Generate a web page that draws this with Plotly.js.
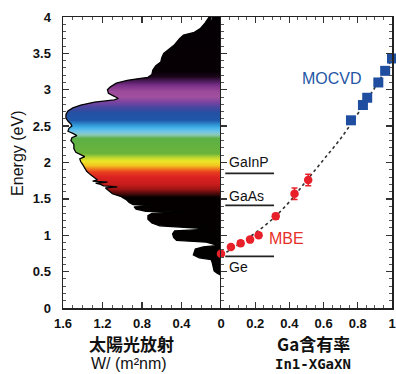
<!DOCTYPE html>
<html><head><meta charset="utf-8">
<script src="https://cdn.plot.ly/plotly-3.0.1.min.js"></script>
<style>html,body{margin:0;padding:0;background:#fff}#c{width:396px;height:374px}</style>
</head><body><div id="c"></div>
<script>
// Solar spectrum (energy in eV, irradiance in W/(m2 nm))
const specEnergy = [4.00,3.92,3.84,3.79,3.75,3.70,3.62,3.56,3.50,3.44,3.38,3.33,3.27,3.21,3.17,3.15,3.13,3.09,3.04,3.00,2.95,2.91,2.88,2.86,2.83,2.79,2.75,2.71,2.66,2.61,2.57,2.53,2.50,2.47,2.43,2.40,2.37,2.34,2.30,2.25,2.19,2.14,2.10,2.08,2.05,2.01,1.97,1.93,1.88,1.83,1.79,1.76,1.745,1.73,1.715,1.70,1.68,1.665,1.65,1.61,1.57,1.53,1.49,1.45,1.42,1.405,1.39,1.36,1.33,1.315,1.30,1.27,1.22,1.17,1.13,1.10,1.08,1.06,1.02,0.97,0.93,0.905,0.88,0.86,0.84,0.81,0.77,0.73,0.69,0.665,0.63,0.57,0.51,0.48,0.45,0.0];
const specIrr = [0.12,0.16,0.21,0.27,0.38,0.42,0.47,0.52,0.58,0.60,0.61,0.66,0.69,0.70,0.74,0.85,0.95,1.06,1.12,1.15,1.14,1.08,1.04,1.08,1.28,1.42,1.50,1.55,1.57,1.57,1.55,1.52,1.51,1.54,1.55,1.50,1.46,1.51,1.52,1.49,1.49,1.47,1.41,1.38,1.43,1.42,1.40,1.38,1.36,1.32,1.28,1.25,1.30,1.15,1.27,1.22,1.19,1.05,1.17,1.13,1.10,1.01,0.96,0.93,0.89,0.70,0.88,0.86,0.76,0.38,0.70,0.74,0.74,0.70,0.62,0.25,0.18,0.47,0.49,0.48,0.45,0.15,0.08,0.03,0.18,0.26,0.27,0.28,0.22,0.10,0.09,0.08,0.07,0.04,0.0,0.0];

// In(1-x)Ga(x)N band gap
const mbeX = [0,0.058,0.115,0.17,0.22,0.32,0.43,0.51];
const mbeE = [0.745,0.84,0.89,0.94,1.0,1.26,1.57,1.76];
const mbeErr = [0.03,0.03,0.03,0.03,0.03,0.04,0.08,0.08];
const mocvdX = [0.76,0.83,0.855,0.92,0.96,1.0];
const mocvdE = [2.58,2.79,2.89,3.10,3.26,3.43];
const fitX = [0,0.1,0.2,0.3,0.4,0.5,0.6,0.7,0.8,0.9,1.0];
const fitE = [0.72,0.87,1.03,1.22,1.46,1.75,2.04,2.33,2.67,3.03,3.42];

// Reference materials
const materials = ['GaInP','GaAs','Ge'];
const materialGap = [1.85,1.41,0.71];

const leftTickVals = [1.6,1.2,0.8,0.4,0];
const leftTickText = ['1.6','1.2','0.8','0.4','0'];
const rightTickVals = [0.2,0.4,0.6,0.8,1];
const rightTickText = ['0.2','0.4','0.6','0.8','1'];

const stops = [
 [0,'#000000'],[1.52,'#050000'],[1.57,'#4a0a0a'],[1.63,'#9a1414'],[1.70,'#c81c1c'],[1.80,'#dc2222'],
 [1.87,'#e8401e'],[1.91,'#f07a1e'],[1.96,'#f2c820'],[2.02,'#ece628'],[2.07,'#b8d432'],[2.12,'#6cb43a'],
 [2.33,'#5cb046'],[2.38,'#8ccab8'],[2.43,'#6cc4ec'],[2.48,'#40b0e8'],[2.53,'#2c88cc'],[2.58,'#2058aa'],
 [2.68,'#2450a2'],[2.76,'#4a46a0'],[2.83,'#7a44a0'],[2.90,'#a0509e'],[2.98,'#9c4a9a'],[3.06,'#7a3088'],
 [3.12,'#4a1a58'],[3.18,'#1a0618'],[3.25,'#060004'],[4,'#040004']
];
const cscale = stops.map(s => [s[0]/4, s[1]]);

const tickFont = {family:'Liberation Sans, Arial, sans-serif', size:13, weight:'bold', color:'#111'};
const lineX = [0.025, 0.31];

const traces = [];
traces.push({
  x: specIrr, y: specEnergy, xaxis:'x', yaxis:'y', type:'scatter', mode:'lines',
  fill:'tozerox', fillgradient:{type:'vertical', colorscale:cscale, start:0, stop:4},
  line:{color:'#000', width:1.3}, hoverinfo:'skip', showlegend:false
});
materials.forEach((m,i) => {
  traces.push({x: lineX, y:[materialGap[i], materialGap[i]], xaxis:'x2', yaxis:'y', mode:'lines',
    line:{color:'#222', width:1.6}, showlegend:false, hoverinfo:'skip'});
});
traces.push({x: fitX, y: fitE, xaxis:'x2', yaxis:'y', mode:'lines', line:{color:'#333', width:1.6, dash:'dot', shape:'spline'}, showlegend:false});
traces.push({x: mbeX, y: mbeE, xaxis:'x2', yaxis:'y', mode:'markers', cliponaxis:false,
  marker:{color:'#e8202a', size:8.5, symbol:'circle'},
  error_y:{type:'data', array:mbeErr, visible:true, color:'#e8202a', thickness:1.5, width:3}, showlegend:false});
traces.push({x: mocvdX, y: mocvdE, xaxis:'x2', yaxis:'y', mode:'markers', cliponaxis:false,
  marker:{color:'#1f4ea0', size:10, symbol:'square'}, showlegend:false});
traces.push({x:[0.5], y:[2], xaxis:'x2', yaxis:'y2', mode:'markers', marker:{opacity:0}, hoverinfo:'skip', showlegend:false});
traces.push({x:[0.5], y:[2], xaxis:'x2', yaxis:'y3', mode:'markers', marker:{opacity:0}, hoverinfo:'skip', showlegend:false});

const split = 158/329;
const commonX = {ticks:'inside', ticklen:6, tickwidth:1.3, tickcolor:'#333', showline:true, linecolor:'#222', linewidth:1.5,
  mirror:'ticks', showgrid:false, zeroline:false, tickfont:tickFont, ticklabelstandoff:3, ticklabeloverflow:'allow', fixedrange:true};
const commonY = {range:[0,4], dtick:0.5, ticks:'inside', ticklen:6, tickwidth:1.3, tickcolor:'#333', showline:true,
  linecolor:'#222', linewidth:1.5, showgrid:false, zeroline:false,
  minor:{dtick:0.1, ticks:'inside', ticklen:3, tickcolor:'#555', tickwidth:1}};

const layout = {
  width:396, height:374, margin:{l:63, r:4, t:17, b:66}, paper_bgcolor:'#fff', plot_bgcolor:'#fff',
  showlegend:false,
  xaxis: Object.assign({}, commonX, {domain:[0, split], range:[1.6, 0], anchor:'y', tickmode:'array', tickvals:leftTickVals, ticktext:leftTickText,
    minor:{dtick:0.1, ticks:'inside', ticklen:3, tickcolor:'#555', tickwidth:1}}),
  xaxis2: Object.assign({}, commonX, {domain:[split, 1], range:[0, 1], anchor:'y', tickmode:'array', tickvals:rightTickVals, ticktext:rightTickText,
    minor:{dtick:0.05, ticks:'inside', ticklen:3, tickcolor:'#555', tickwidth:1}}),
  yaxis: Object.assign({}, commonY, {anchor:'x', side:'left', tickfont:tickFont, ticklabelstandoff:8, tickformat:''}),
  yaxis2: Object.assign({}, commonY, {anchor:'x2', side:'left', overlaying:'y', showticklabels:false}),
  yaxis3: Object.assign({}, commonY, {anchor:'x2', side:'right', overlaying:'y', showticklabels:false}),
  annotations: [
    {text:'Energy (eV)', xref:'paper', yref:'paper', x:-0.1368, y:0.533, xanchor:'center', yanchor:'middle', textangle:-90, showarrow:false,
     font:{family:'Liberation Sans, Arial, sans-serif', size:16, color:'#111'}},
    {text:'太陽光放射', xref:'paper', yref:'paper', x:0.2067, y:-0.1203, xanchor:'center', yanchor:'middle', showarrow:false,
     font:{family:'Noto Sans CJK JP', size:17, weight:'bold', color:'#111'}},
    {text:'W/ (m²nm)', xref:'paper', yref:'paper', x:0.2006, y:-0.1924, xanchor:'center', yanchor:'middle', showarrow:false,
     font:{family:'Liberation Sans, Arial, sans-serif', size:16, color:'#111'}},
    {text:'Ga含有率', xref:'paper', yref:'paper', x:0.760, y:-0.1203, xanchor:'center', yanchor:'middle', showarrow:false,
     font:{family:'Noto Sans CJK JP', size:17, weight:'bold', color:'#111'}},
    {text:'In1-XGaXN', xref:'paper', yref:'paper', x:0.760, y:-0.1924, xanchor:'center', yanchor:'middle', showarrow:false,
     font:{family:'DejaVu Sans Mono', size:14, weight:'bold', color:'#111'}},
    {text:'MOCVD', xref:'x2', yref:'y', x:0.65, y:3.16, xanchor:'center', yanchor:'middle', showarrow:false,
     font:{family:'Liberation Sans, Arial, sans-serif', size:16, color:'#2456a4'}},
    {text:'MBE', xref:'x2', yref:'y', x:0.385, y:0.95, xanchor:'center', yanchor:'middle', showarrow:false,
     font:{family:'Liberation Sans, Arial, sans-serif', size:16, color:'#e8302a'}},
  ]
};
const labelShift = [11, 9, -11];
materials.forEach((m,i) => {
  layout.annotations.push({text:m, xref:'x2', yref:'y', x:0.035, y:materialGap[i], xanchor:'left', yanchor:'middle', yshift:labelShift[i], showarrow:false,
    font:{family:'Liberation Sans, Arial, sans-serif', size:14, color:'#111'}});
});

Plotly.newPlot('c', traces, layout, {staticPlot:true, displayModeBar:false});
</script></body></html>
